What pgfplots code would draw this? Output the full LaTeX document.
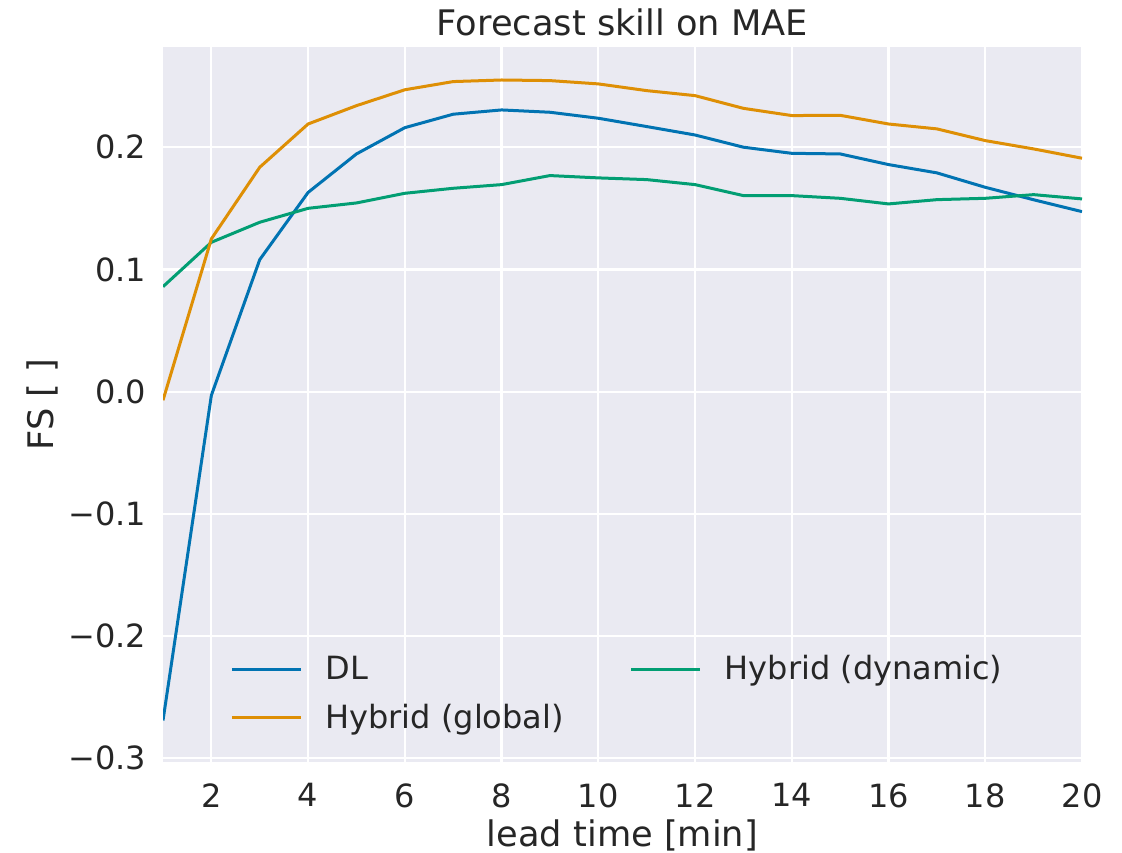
\documentclass[border=0pt]{standalone}
\usepackage{fontspec}
\setmainfont{DejaVu Sans}
\usepackage{pgfplots}
\pgfplotsset{compat=1.18}
\usepackage{pgfplotstable}
\definecolor{sbblue}{HTML}{0173B2}
\definecolor{sborange}{HTML}{DE8F05}
\definecolor{sbgreen}{HTML}{029E73}
\definecolor{sbbg}{HTML}{EAEAF2}
\definecolor{sbtext}{HTML}{262626}

\pgfplotstableread{
x   dl       glob     dyn
1   -0.269   -0.007   0.0859
2   -0.003   0.125    0.1222
3   0.108    0.1836   0.1386
4   0.163    0.219    0.150
5   0.1945   0.234    0.1544
6   0.216    0.247    0.1623
7   0.227    0.2537   0.1664
8   0.2305   0.255    0.1694
9   0.2286   0.2545   0.1768
10  0.2237   0.2518   0.1749
11  0.2169   0.2463   0.1735
12  0.210    0.2422   0.1694
13  0.200    0.2318   0.1604
14  0.195    0.2259   0.1604
15  0.1945   0.2261   0.1582
16  0.1858   0.219    0.1536
17  0.179    0.215    0.1571
18  0.1672   0.2054   0.1582
19  0.157    0.1986   0.1612
20  0.1473   0.191    0.1577
}\fsdata

\begin{document}
\begin{tikzpicture}
\useasboundingbox (0,0) rectangle (561pt,426pt);
\begin{axis}[
  at={(81.5pt,45pt)}, anchor=south west,
  scale only axis, width=459.5pt, height=357.5pt,
  xmin=1, xmax=20, ymin=-0.303, ymax=0.282,
  axis background/.style={fill=sbbg},
  axis line style={draw=none},
  major tick length=0pt,
  grid=major,
  grid style={white, line width=1.1pt},
  xtick={2,4,...,20},
  xticklabels={2,4,6,8,10,12,14,16,18,20},
  ytick={-0.3,-0.2,-0.1,0,0.1,0.2},
  yticklabels={−0.3,−0.2,−0.1,0.0,0.1,0.2},
  every tick label/.append style={text=sbtext, font=\fontsize{16}{19}\selectfont, inner sep=0pt},
  xticklabel style={anchor=north, yshift=-10.5pt},
  yticklabel style={anchor=east, xshift=-8.25pt},
  title={Forecast skill on MAE},
  every axis title shift=0pt,
  title style={at={(axis description cs:0.5,1.0144)}, anchor=south, inner sep=0pt, text=sbtext, font=\fontsize{17.6}{21}\selectfont},
  xlabel={lead time [min]},
  xlabel style={at={(axis description cs:0.5,-0.0797)}, anchor=north, inner sep=0pt, text=sbtext, font=\fontsize{17.6}{21}\selectfont},
  ylabel={FS [ ]},
  ylabel style={at={(axis description cs:-0.149,0.5)}, anchor=north, inner sep=0pt, text=sbtext, font=\fontsize{17.6}{21}\selectfont},
  legend columns=2,
  legend cell align=left,
  legend image code/.code={\draw[#1] (0pt,0pt) -- (34.5pt,0pt);},
  legend style={at={(axis description cs:0,0)}, anchor=south west, xshift=33.5pt, yshift=15.2pt,
    draw=none, fill=none, inner sep=0pt, row sep=10.5pt, text=sbtext,
    font=\fontsize{16}{19}\selectfont,
    nodes={inner sep=0pt},
    /tikz/every odd column/.append style={column sep=11.5pt},
    /tikz/every even column/.append style={column sep=33pt}},
]
\addplot[sbblue, line width=1.5pt] table[x=x, y=dl] {\fsdata};
\addlegendentry{DL}
\addplot[sbgreen, line width=1.5pt] table[x=x, y=dyn] {\fsdata};
\addlegendentry{Hybrid (dynamic)}
\addplot[sborange, line width=1.5pt] table[x=x, y=glob] {\fsdata};
\addlegendentry{Hybrid (global)}
\end{axis}
\end{tikzpicture}
\end{document}
